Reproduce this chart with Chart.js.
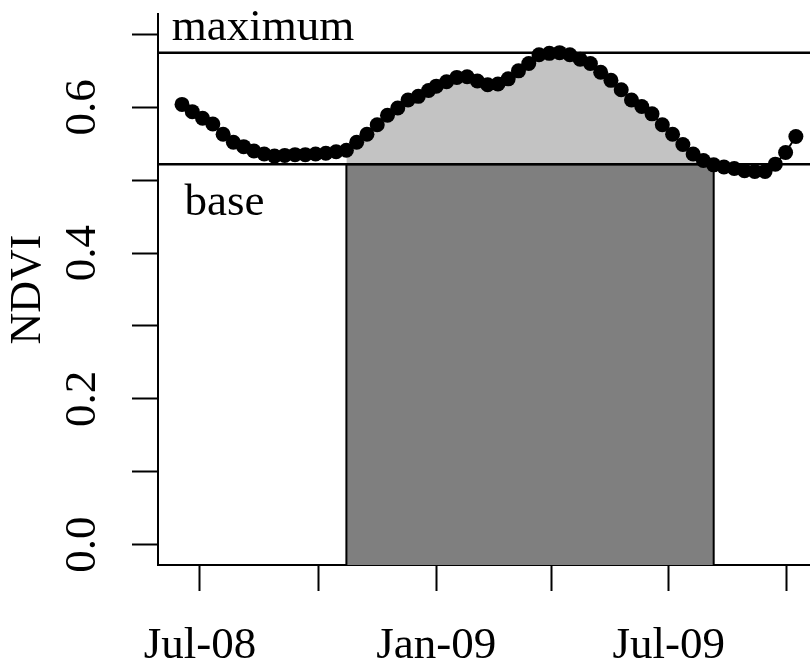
<!DOCTYPE html>
<html>
<head>
<meta charset="utf-8">
<title>NDVI growing season</title>
<script src="https://cdn.jsdelivr.net/npm/chart.js@4.4.1/dist/chart.umd.min.js"></script>
<style>
  html, body { margin: 0; padding: 0; background: #fff; overflow: hidden; }
  #chart { display: block; }
</style>
</head>
<body>
<canvas id="chart" width="810" height="664"></canvas>
<script>
// 8-day composites, x = days since 1 Jul 2008
const days = [
  -14, -6, 2, 10, 18, 26, 34, 42, 50, 58, 66, 74, 82, 90, 98, 106, 114, 122,
  130, 138, 146, 154, 162, 170, 178,
  184, 192, 200, 208, 216, 224, 232, 240, 248, 256, 264, 272, 280, 288, 296,
  304, 312, 320, 328, 336, 344, 352, 360, 368, 376, 384, 392, 400, 408, 416,
  424, 432, 440, 448, 456, 464
];
const ndvi = [
  0.604, 0.594, 0.585, 0.577, 0.563, 0.552, 0.546, 0.540, 0.536, 0.533, 0.534,
  0.535, 0.535, 0.536, 0.537, 0.539, 0.541, 0.552, 0.563, 0.576, 0.589, 0.599,
  0.610, 0.615, 0.623,
  0.629, 0.635, 0.641, 0.642, 0.636, 0.631, 0.632, 0.639, 0.650, 0.660, 0.672,
  0.674, 0.675, 0.672, 0.666, 0.660, 0.648, 0.637, 0.624, 0.610, 0.601, 0.591,
  0.576, 0.563, 0.549, 0.536, 0.527, 0.521, 0.518, 0.516, 0.513, 0.512, 0.512,
  0.522, 0.538, 0.560
];
const baseLevel = 0.522;
const seasonStart = 114;   // 23 Oct 2008
const seasonEnd = 400;     // 4 Aug 2009

const xTickDays = [0, 92, 184, 274, 365, 457];
const xTickLabels = ['Jul-08', '', 'Jan-09', '', 'Jul-09', ''];
const yTickValues = [0, 0.1, 0.2, 0.3, 0.4, 0.5, 0.6, 0.7];
const yTickLabels = ['0.0', '', '0.2', '', '0.4', '', '0.6', ''];

const xMin = -32.7, xMax = 475;
const yMin = -0.028, yMax = 0.728;
const maxLevel = Math.max(...ndvi);

const serif = '"Liberation Serif", "Times New Roman", serif';
const points = days.map((d, i) => ({ x: d, y: ndvi[i] }));

// area between the curve and the base level during the season
const seasonArea = [{ x: seasonStart, y: baseLevel }]
  .concat(points.filter(p => p.x >= seasonStart && p.x <= seasonEnd))
  .concat([{ x: seasonEnd, y: baseLevel }]);

const labelText = {
  id: 'labelText',
  afterDatasetsDraw(chart) {
    const { ctx, scales: { x, y } } = chart;
    ctx.save();
    ctx.font = '45px ' + serif;
    ctx.fillStyle = '#000';
    ctx.textAlign = 'left';
    ctx.textBaseline = 'alphabetic';
    ctx.fillText('maximum', x.getPixelForValue(-22), y.getPixelForValue(maxLevel) - 13);
    ctx.fillText('base', x.getPixelForValue(-12), y.getPixelForValue(baseLevel) + 51);
    ctx.restore();
  }
};

const axisGrid = {
  drawOnChartArea: false,
  drawTicks: true,
  tickLength: 26,
  tickWidth: 2,
  tickColor: '#000'
};
const axisBorder = { display: true, color: '#000', width: 2 };

new Chart(document.getElementById('chart'), {
  type: 'line',
  data: {
    datasets: [
      {
        label: 'NDVI',
        data: points,
        borderColor: '#000',
        borderWidth: 2,
        pointRadius: 7.5,
        pointBackgroundColor: '#000',
        pointBorderWidth: 0,
        order: 0
      },
      {
        label: 'maximum',
        data: [{ x: xMin, y: maxLevel }, { x: xMax, y: maxLevel }],
        borderColor: '#000',
        borderWidth: 2.5,
        pointRadius: 0,
        order: 1
      },
      {
        label: 'base',
        data: [{ x: xMin, y: baseLevel }, { x: xMax, y: baseLevel }],
        borderColor: '#000',
        borderWidth: 2.5,
        pointRadius: 0,
        order: 1
      },
      {
        label: 'season',
        data: seasonArea,
        borderColor: 'rgba(0,0,0,0)',
        backgroundColor: '#c3c3c3',
        pointRadius: 0,
        fill: { value: baseLevel },
        order: 2
      },
      {
        label: 'length',
        data: [
          { x: seasonStart, y: yMin }, { x: seasonStart, y: baseLevel },
          { x: seasonEnd, y: baseLevel }, { x: seasonEnd, y: yMin }
        ],
        borderColor: '#000',
        borderWidth: 2,
        backgroundColor: '#7f7f7f',
        pointRadius: 0,
        fill: 'start',
        order: 3
      }
    ]
  },
  options: {
    responsive: false,
    animation: false,
    devicePixelRatio: 1,
    layout: { autoPadding: false, padding: { top: 14, right: 0, bottom: 0, left: 0 } },
    plugins: { legend: { display: false }, tooltip: { enabled: false } },
    scales: {
      x: {
        type: 'linear',
        min: xMin,
        max: xMax,
        afterBuildTicks: s => { s.ticks = xTickDays.map(v => ({ value: v })); },
        afterFit: s => {
          s.height = 99;
          s.paddingLeft = 0;
          s.paddingRight = 0;
        },
        grid: axisGrid,
        border: axisBorder,
        ticks: {
          autoSkip: false,
          maxRotation: 0,
          padding: 28,
          color: '#000',
          font: { family: serif, size: 45 },
          callback: (v, i) => xTickLabels[i]
        }
      },
      y: {
        type: 'linear',
        min: yMin,
        max: yMax,
        afterBuildTicks: s => { s.ticks = yTickValues.map(v => ({ value: v })); },
        afterFit: s => {
          s.width = 158;
          s.paddingTop = 0;
          s.paddingBottom = 0;
        },
        grid: axisGrid,
        border: axisBorder,
        title: {
          display: true,
          text: 'NDVI',
          color: '#000',
          font: { family: serif, size: 44 },
          padding: { top: 2, bottom: 0 }
        },
        ticks: {
          autoSkip: false,
          minRotation: 90,
          maxRotation: 90,
          crossAlign: 'center',
          padding: 21,
          color: '#000',
          font: { family: serif, size: 45 },
          callback: (v, i) => yTickLabels[i]
        }
      }
    }
  },
  plugins: [labelText]
});
</script>
</body>
</html>
